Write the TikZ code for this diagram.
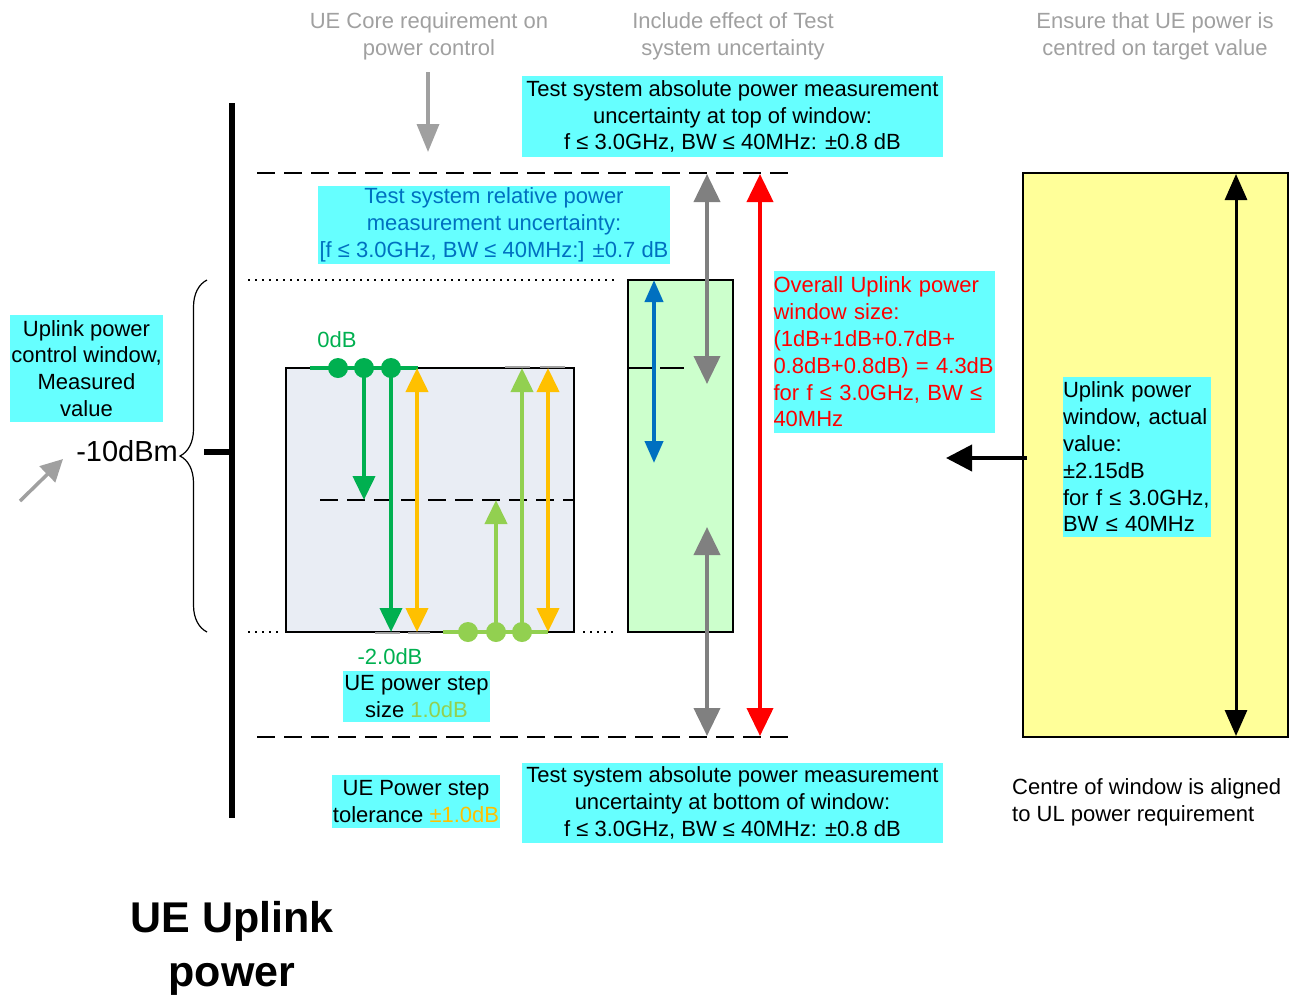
\documentclass[tikz,border=0pt]{standalone}
\usepackage{fontspec}
\setmainfont{Liberation Sans}
\usetikzlibrary{arrows.meta,decorations.pathreplacing}
\definecolor{cyanbg}{HTML}{66FFFF}
\definecolor{dkgreen}{HTML}{00B050}
\definecolor{ltgreen}{HTML}{92D050}
\definecolor{gold}{HTML}{FFC000}
\definecolor{bluea}{HTML}{0070C0}
\definecolor{graytxt}{HTML}{A0A0A0}
\definecolor{grayarr}{HTML}{808080}
\definecolor{boxgray}{HTML}{E9EDF4}
\definecolor{boxgreen}{HTML}{CCFFCC}
\definecolor{boxyellow}{HTML}{FFFF99}
\newcommand\fsz{\fontsize{22}{26.8}\selectfont}
\tikzset{
  cbox/.style={fill=cyanbg, inner sep=0pt, font=\fsz, align=center},
  gtext/.style={text=graytxt, font=\fsz, align=center, inner sep=0pt},
  hd/.tip={Triangle[length=24pt,width=22pt]},
  ghd/.tip={Triangle[length=28pt,width=26pt]},
  dashln/.style={line width=2pt, dash pattern=on 18pt off 9pt},
  dotln/.style={line width=1.6pt, dash pattern=on 2pt off 5pt},
  arrdk/.style={dkgreen, line width=4pt, -{hd}},
  arrlt/.style={ltgreen, line width=4pt, -{hd}},
  arrgold/.style={gold, line width=4pt, {hd}-{hd}},
  arrgray/.style={grayarr, line width=4pt, {ghd}-{ghd}},
}
\begin{document}
\begin{tikzpicture}[x=1pt,y=-1pt]
\useasboundingbox (0,0) rectangle (1289,994);

% top grey texts
\node[gtext] (t1) at (429,36) {UE Core requirement on\\power control};
\node[gtext] (t2) at (733,36) {Include effect of Test\\system uncertainty};
\node[gtext] (t3) at (1155,36) {Ensure that UE power is\\centred on target value};
\coordinate (ga1) at (428,72);
\coordinate (ga2) at (428,152);
\draw[graytxt, line width=3.5pt, -{Triangle[length=28pt,width=22pt]}] (ga1) -- (ga2);

% dashed window lines
\coordinate (dt1) at (257,173); \coordinate (dt2) at (792,173);
\coordinate (db1) at (257,737); \coordinate (db2) at (792,737);
\draw[dashln] (dt1) -- (dt2);
\draw[dashln] (db1) -- (db2);
% dotted lines
\coordinate (pt1) at (248,280); \coordinate (pt2) at (614,280);
\draw[dotln] (pt1) -- (pt2);
\coordinate (pb1) at (248,632); \coordinate (pb2) at (280,632);
\coordinate (pb3) at (583,632); \coordinate (pb4) at (614,632);
\draw[dotln] (pb1) -- (pb2);
\draw[dotln] (pb3) -- (pb4);

% main vertical axis
\coordinate (ax1) at (232,103); \coordinate (ax2) at (232,818);
\draw[line width=6pt] (ax1) -- (ax2);
\coordinate (tk1) at (204,452); \coordinate (tk2) at (232,452);
\draw[line width=6pt] (tk1) -- (tk2);
% brace
\coordinate (br1) at (207,632); \coordinate (br2) at (207,280);
\draw[line width=1.2pt, decorate, decoration={brace, amplitude=27pt}] (br1) -- (br2);
\node[font=\fontsize{29}{32}\selectfont, anchor=east, inner sep=0pt] (dbm) at (178,451) {-10dBm};
\coordinate (da1) at (20,501); \coordinate (da2) at (63,459);
\draw[graytxt, line width=3.5pt, -{Triangle[length=22pt,width=22pt]}] (da1) -- (da2);
\node[cbox, minimum width=153pt, minimum height=107pt] (lbox) at (86.5,368.5) {Uplink power\\control window,\\Measured\\value};

% grey step box
\node[draw, line width=1.6pt, fill=boxgray, minimum width=288pt, minimum height=264pt, inner sep=0pt] (sbox) at (430,500) {};
\coordinate (md1) at (320,500); \coordinate (md2) at (574,500);
\draw[dashln] (md1) -- (md2);
\draw[graytxt, line width=2pt] (505,367) -- (530,367) (540,367) -- (565,367);
\draw[graytxt, line width=2pt] (375,633) -- (400,633) (408,633) -- (430,633);

% dark green steps
\coordinate (g0a) at (310,368); \coordinate (g0b) at (418,368);
\draw[dkgreen, line width=4pt] (g0a) -- (g0b);
\coordinate (g1) at (338,368); \coordinate (g2) at (364,368); \coordinate (g3) at (391,368);
\coordinate (g2e) at (364,500); \coordinate (g3e) at (391,632);
\draw[arrdk] (g2) -- (g2e);
\draw[arrdk] (g3) -- (g3e);
\foreach \p in {g1,g2,g3} \fill[dkgreen] (\p) circle (10pt);
\node[text=dkgreen, font=\fsz, inner sep=0pt] (l0) at (337,340) {0dB};
\node[text=dkgreen, font=\fsz, inner sep=0pt] (l2) at (390,657) {-2.0dB};

% gold tolerance arrows
\coordinate (o1a) at (417,368); \coordinate (o1b) at (417,632);
\coordinate (o2a) at (548,368); \coordinate (o2b) at (548,632);
\draw[arrgold] (o1a) -- (o1b);
\draw[arrgold] (o2a) -- (o2b);

% light green steps
\coordinate (h0a) at (443,632); \coordinate (h0b) at (548,632);
\draw[ltgreen, line width=4pt] (h0a) -- (h0b);
\coordinate (h1) at (468,632); \coordinate (h2) at (496,632); \coordinate (h3) at (522,632);
\coordinate (h2e) at (496,500); \coordinate (h3e) at (522,368);
\draw[arrlt] (h2) -- (h2e);
\draw[arrlt] (h3) -- (h3e);
\foreach \p in {h1,h2,h3} \fill[ltgreen] (\p) circle (10pt);

% green window box
\node[draw, line width=1.6pt, fill=boxgreen, minimum width=105pt, minimum height=352pt, inner sep=0pt] (gbox) at (680.5,456) {};
\coordinate (gd1) at (628,368); \coordinate (gd2) at (684,368);
\draw[line width=1.6pt, dash pattern=on 26pt off 6pt] (gd1) -- (gd2);
\coordinate (bl1) at (654,280); \coordinate (bl2) at (654,463);
\draw[bluea, line width=4pt, {Triangle[length=22pt,width=18pt]}-{Triangle[length=22pt,width=18pt]}] (bl1) -- (bl2);

% grey uncertainty arrows
\coordinate (gy1) at (707,174); \coordinate (gy2) at (707,384);
\coordinate (gy3) at (707,527); \coordinate (gy4) at (707,736);
\draw[arrgray] (gy1) -- (gy2);
\draw[arrgray] (gy3) -- (gy4);
% red overall arrow
\coordinate (rd1) at (760,174); \coordinate (rd2) at (760,736);
\draw[red, line width=4pt, {ghd}-{ghd}] (rd1) -- (rd2);

% cyan boxes
\node[cbox, minimum width=421pt, minimum height=81pt] (abstop) at (732.5,116.5)
  {Test system absolute power measurement\\uncertainty at top of window:\\f ≤ 3.0GHz, BW ≤ 40MHz: ±0.8 dB};
\node[cbox, text=bluea, minimum width=352pt, minimum height=78pt] (rel) at (494,225)
  {Test system relative power\\measurement uncertainty:\\{}[f ≤ 3.0GHz, BW ≤ 40MHz:] ±0.7 dB};
\node[cbox, minimum width=421pt, minimum height=80pt] (absbot) at (732.5,803)
  {Test system absolute power measurement\\uncertainty at bottom of window:\\f ≤ 3.0GHz, BW ≤ 40MHz: ±0.8 dB};
\node[cbox, text=red, align=left, text width=221pt, minimum height=162pt] (overall) at (884,352)
  {Overall Uplink power\\window size:\\(1dB+1dB+0.7dB+\\0.8dB+0.8dB) = 4.3dB\\for f ≤ 3.0GHz, BW ≤\\40MHz};
\node[cbox, minimum width=147pt, minimum height=51pt] (stepsz) at (416.5,696.5)
  {UE power step\\size \textcolor{ltgreen}{1.0dB}};
\node[cbox, minimum width=168pt, minimum height=53pt] (toler) at (416,801.5)
  {UE Power step\\tolerance \textcolor{gold}{±1.0dB}};

% yellow actual window
\node[draw, line width=1.6pt, fill=boxyellow, minimum width=265pt, minimum height=564pt, inner sep=0pt] (ybox) at (1155.5,455) {};
\coordinate (ya1) at (1236,174); \coordinate (ya2) at (1236,736);
\draw[line width=3pt, {Triangle[length=26pt,width=22pt]}-{Triangle[length=26pt,width=22pt]}] (ya1) -- (ya2);
\node[cbox, align=left, text width=148pt, minimum height=160pt] (act) at (1137,457)
  {Uplink power\\window, actual\\value:\\±2.15dB\\for f ≤ 3.0GHz,\\BW ≤ 40MHz};
\coordinate (ka1) at (1027,458); \coordinate (ka2) at (946,458);
\draw[line width=4pt, -{Triangle[length=26pt,width=26pt]}] (ka1) -- (ka2);
\node[font=\fsz, align=left, anchor=west, inner sep=0pt] (centre) at (1012,802)
  {Centre of window is aligned\\to UL power requirement};

% title
\node[font=\fontsize{43}{54}\selectfont\bfseries, align=center, inner sep=0pt] (title) at (232,948) {UE Uplink\\power};
\end{tikzpicture}
\end{document}
